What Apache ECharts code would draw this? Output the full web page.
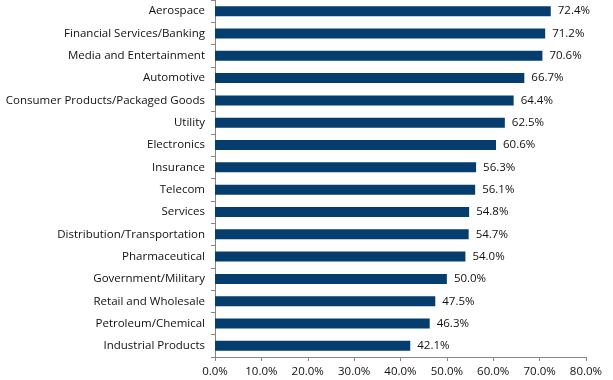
<!DOCTYPE html>
<html><head><meta charset="utf-8">
<script src="https://cdn.jsdelivr.net/npm/echarts@6/dist/echarts.min.js"></script>
<style>html,body{margin:0;padding:0;background:#fff}#c{width:613px;height:380px}</style>
</head><body><div id="c"></div>
<script>
const categories = ["Aerospace","Financial Services/Banking","Media and Entertainment","Automotive","Consumer Products/Packaged Goods","Utility","Electronics","Insurance","Telecom","Services","Distribution/Transportation","Pharmaceutical","Government/Military","Retail and Wholesale","Petroleum/Chemical","Industrial Products"];
const values = [72.4,71.2,70.6,66.7,64.4,62.5,60.6,56.3,56.1,54.8,54.7,54.0,50.0,47.5,46.3,42.1];
const xTicks = {min:0,max:80,interval:10};
const chart = echarts.init(document.getElementById('c'), null, {renderer:'canvas'});
const font = '"Open Sans", "Liberation Sans", sans-serif';
chart.setOption({
  animation:false,
  grid:{left:215,right:27,top:0,bottom:23,containLabel:false},
  xAxis:{type:'value',min:xTicks.min,max:xTicks.max,interval:xTicks.interval,
    axisLine:{show:true,lineStyle:{color:'#868686'}},
    axisTick:{show:true,length:4,lineStyle:{color:'#868686'}},
    splitLine:{show:false},
    axisLabel:{formatter:v=>v.toFixed(1)+'%',color:'#111',fontFamily:font,fontSize:11.5,margin:9}},
  yAxis:{type:'category',data:categories,inverse:true,
    axisLine:{show:true,lineStyle:{color:'#868686'}},
    axisTick:{show:true,length:4,lineStyle:{color:'#868686'}},
    axisLabel:{color:'#111',fontFamily:font,fontSize:11.5,margin:10}},
  series:[{type:'bar',data:values,barWidth:10,itemStyle:{color:'#053e6e'},
    label:{show:true,position:'right',distance:7,formatter:p=>p.value.toFixed(1)+'%',color:'#111',fontFamily:font,fontSize:11.5}}]
});
</script></body></html>
